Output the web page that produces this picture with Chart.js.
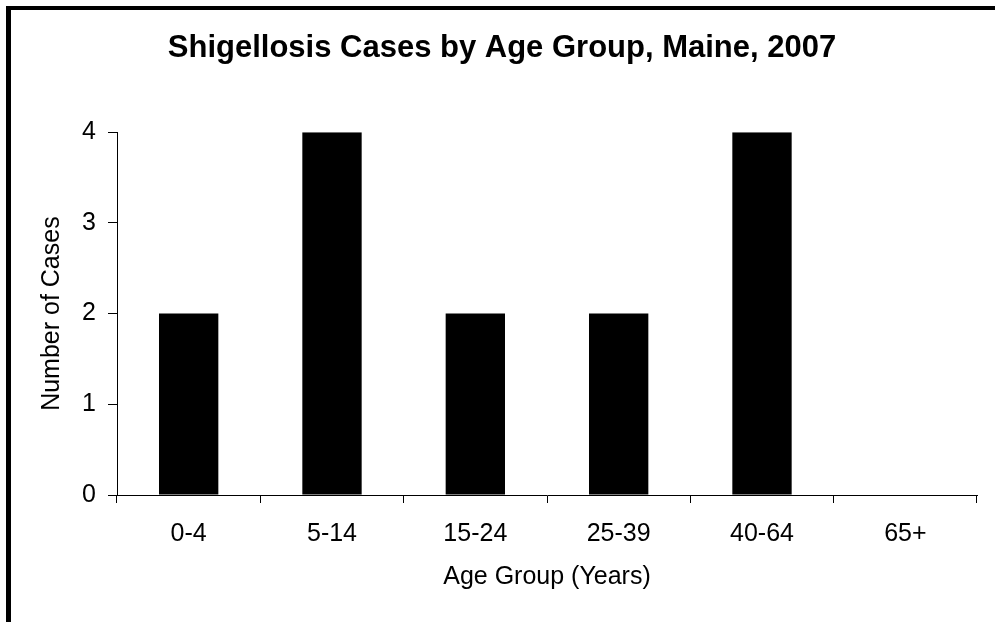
<!DOCTYPE html>
<html>
<head>
<meta charset="utf-8">
<script src="https://cdn.jsdelivr.net/npm/chart.js@4"></script>
<style>
  body { margin: 0; background: #fff; }
  #wrap { position: relative; width: 995px; height: 622px; }
</style>
</head>
<body>
<div id="wrap"><canvas id="chart"></canvas></div>
<script>
// data
var ageGroups = ['0-4', '5-14', '15-24', '25-39', '40-64', '65+'];
var caseCounts = [2, 4, 2, 2, 4, 0];
var yTicks = [0, 1, 2, 3, 4];

var titleText = 'Shigellosis Cases by Age Group, Maine, 2007';
var xTitle = 'Age Group (Years)';
var yTitle = 'Number of Cases';

var fontFamily = '"Liberation Sans", Arial, sans-serif';

// thick frame on the left and top, like the original picture
const framePlugin = {
    id: 'frame',
    beforeDraw: (chart) => {
        const ctx = chart.ctx;
        ctx.save();
        ctx.fillStyle = '#fff';
        ctx.fillRect(0, 0, chart.width, chart.height);
        ctx.fillStyle = '#000';
        ctx.fillRect(6, 6, 5, chart.height - 6);
        ctx.fillRect(6, 6, chart.width - 6, 4);
        ctx.restore();
    }
};

function createChart() {
    var ctx = document.getElementById('chart').getContext('2d');
    var myChart = new Chart(ctx, {
        type: 'bar',
        data: {
            labels: ageGroups,
            datasets: [{
                label: 'Cases',
                data: caseCounts,
                backgroundColor: '#000',
                borderWidth: 0,
                categoryPercentage: 1.0,
                barPercentage: 0.414
            }]
        },
        options: {
            responsive: true,
            maintainAspectRatio: false,
            animation: false,
            layout: {
                padding: { left: 9, right: 0, top: 0, bottom: 0 }
            },
            scales: {
                x: {
                    grid: {
                        offset: true,
                        drawOnChartArea: false,
                        drawTicks: true,
                        tickLength: 8,
                        color: '#000'
                    },
                    border: { color: '#000', width: 1 },
                    ticks: {
                        color: '#000',
                        padding: 16,
                        font: { family: fontFamily, size: 25 }
                    },
                    title: {
                        display: true,
                        text: xTitle,
                        color: '#000',
                        padding: { top: 0, bottom: 30 },
                        font: { family: fontFamily, size: 25 }
                    },
                    afterFit: function(scale) { scale.height = 127; }
                },
                y: {
                    min: yTicks[0],
                    max: yTicks[yTicks.length - 1],
                    grid: {
                        drawOnChartArea: false,
                        drawTicks: true,
                        tickLength: 9,
                        color: '#000'
                    },
                    border: { color: '#000', width: 1 },
                    afterBuildTicks: function(scale) {
                        scale.ticks = yTicks.map(v => ({ value: v }));
                    },
                    ticks: {
                        color: '#000',
                        padding: 12,
                        font: { family: fontFamily, size: 25 }
                    },
                    title: {
                        display: true,
                        text: yTitle,
                        color: '#000',
                        padding: { top: 28, bottom: 0 },
                        font: { family: fontFamily, size: 25 }
                    },
                    afterFit: function(scale) { scale.width = 108; }
                },
                // empty spacer on the right so the title centres like the original
                spacer: {
                    type: 'linear',
                    position: 'right',
                    display: true,
                    grid: { display: false },
                    border: { display: false },
                    ticks: { display: false },
                    afterFit: function(scale) { scale.width = 18; }
                }
            },
            plugins: {
                legend: { display: false },
                tooltip: { enabled: false },
                title: {
                    display: true,
                    text: titleText,
                    color: '#000',
                    padding: { top: 30, bottom: 65 },
                    font: { family: fontFamily, size: 31, weight: 'bold' }
                }
            }
        },
        plugins: [framePlugin]
    });
    myChart.update();
}

createChart();
</script>
</body>
</html>
